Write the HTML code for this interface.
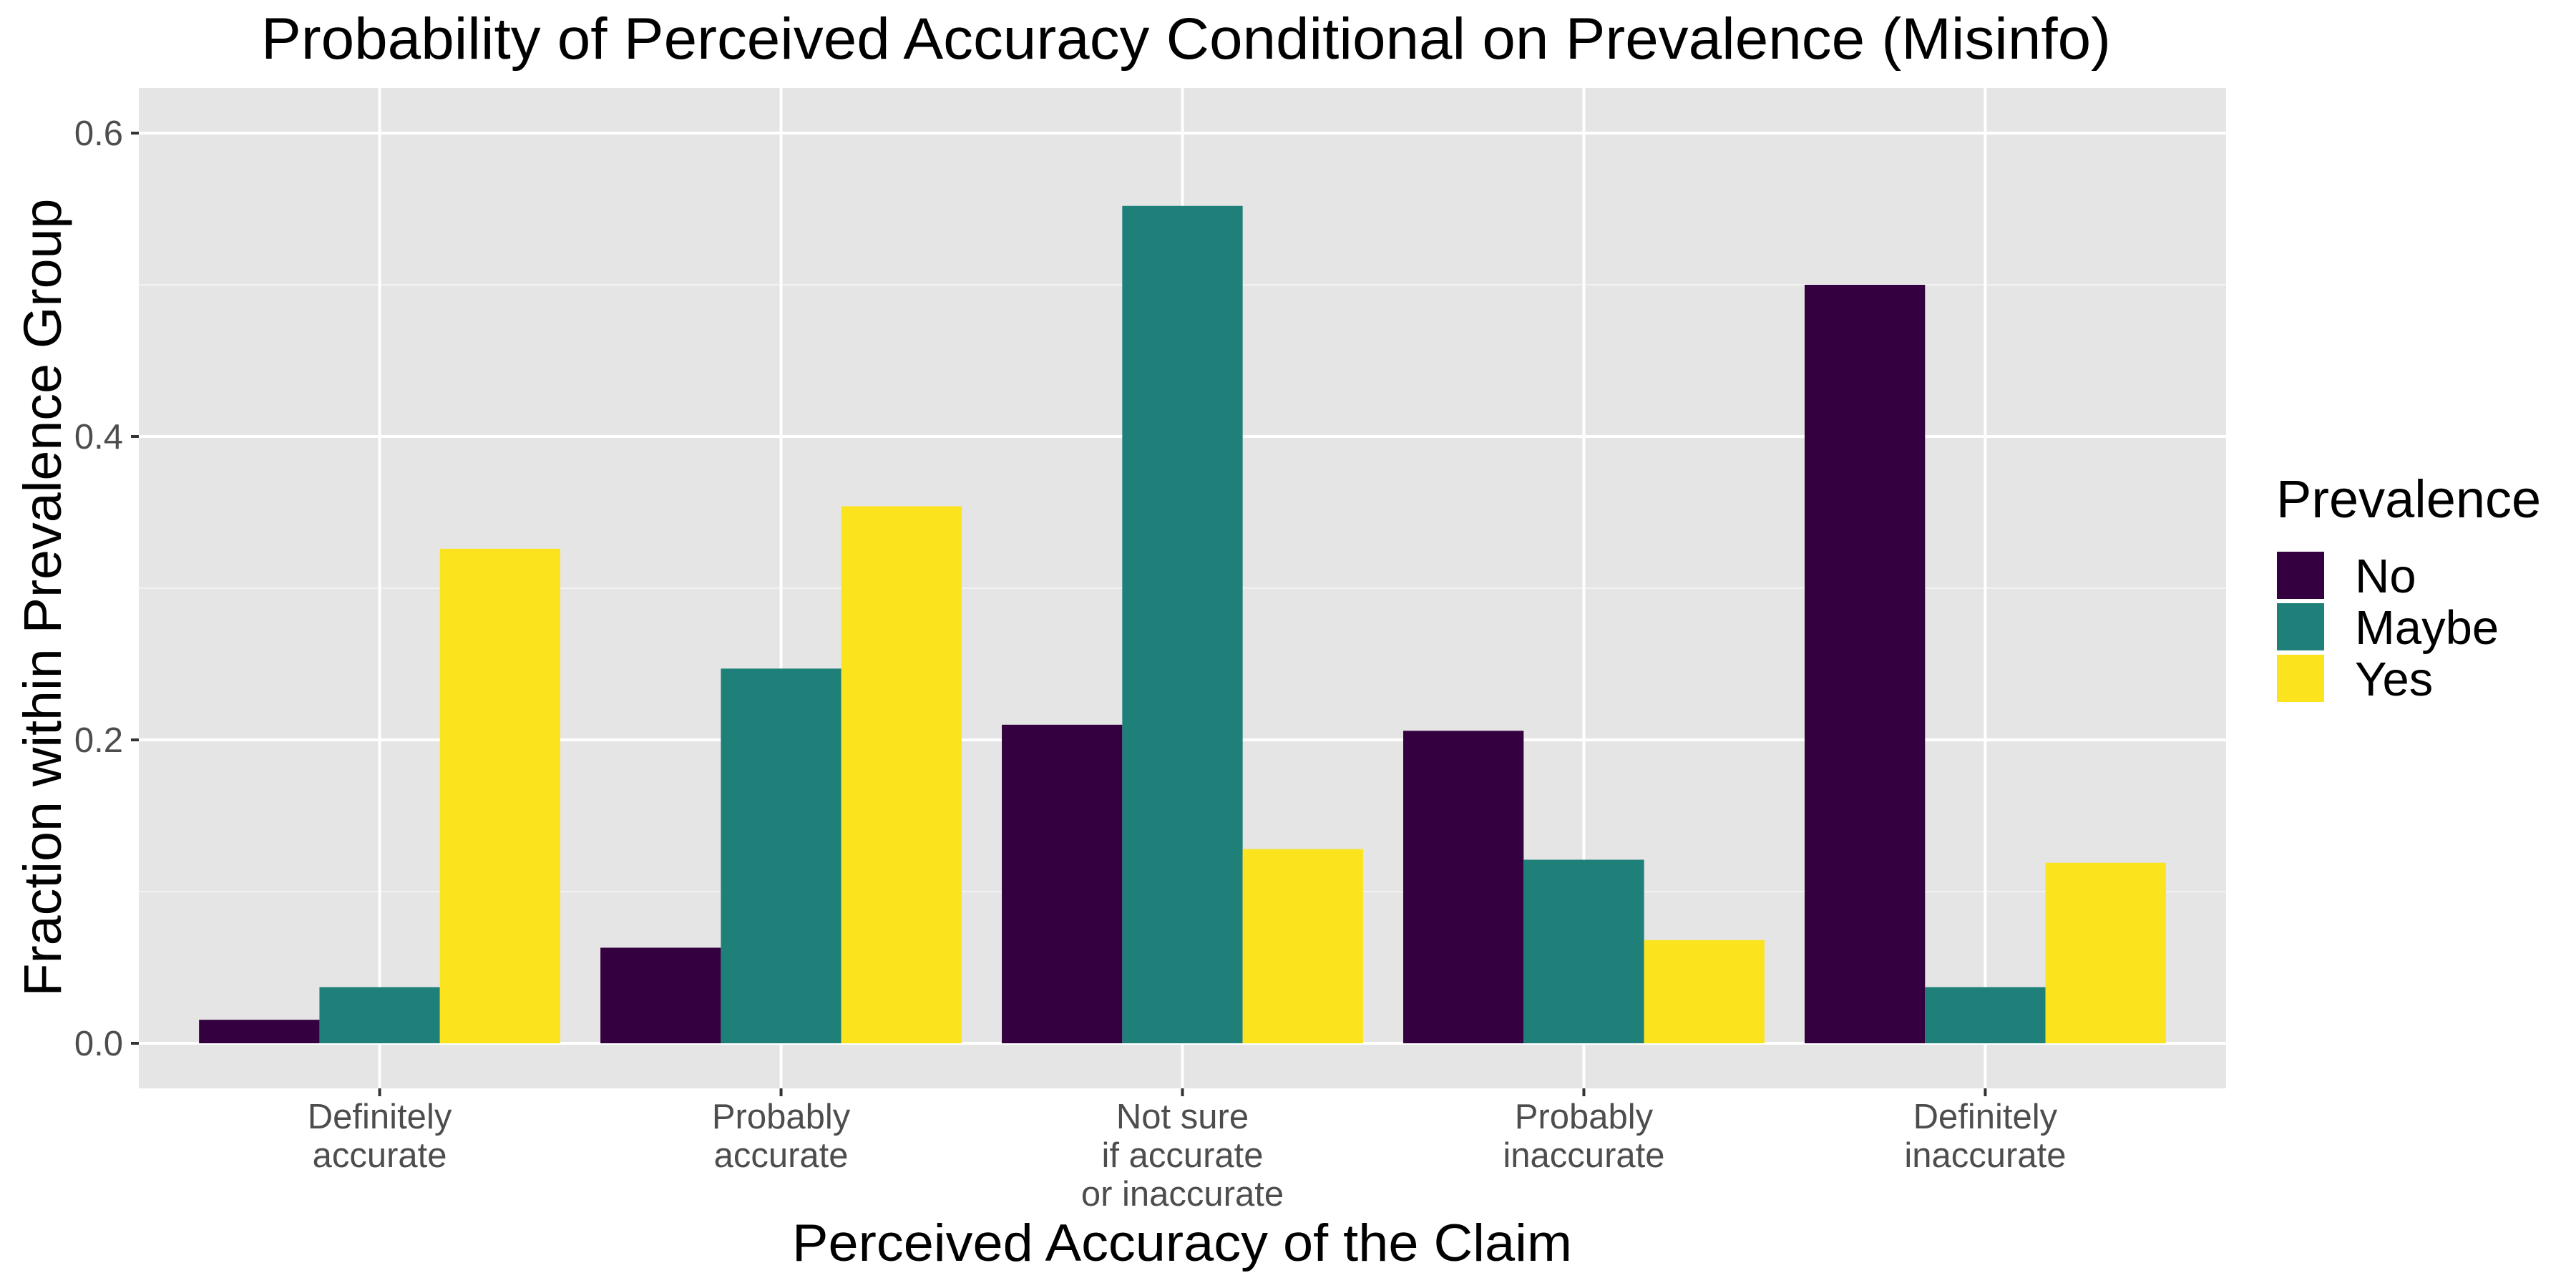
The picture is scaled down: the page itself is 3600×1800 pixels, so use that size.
<!DOCTYPE html>
<html><head><meta charset="utf-8"><style>
html,body{margin:0;padding:0;background:#fff;}
svg{display:block;font-family:"Liberation Sans",sans-serif;}
</style></head><body>
<svg id="chart" width="3600" height="1800" viewBox="0 0 3600 1800" xmlns="http://www.w3.org/2000/svg">
<rect x="194" y="123" width="2917" height="1398" fill="#e5e5e5"/>
<g id="grid"></g><g id="bars"></g><g id="axes"></g>
<text x="365" y="82" font-size="82" textLength="2585" lengthAdjust="spacingAndGlyphs" fill="#000">Probability of Perceived Accuracy Conditional on Prevalence (Misinfo)</text>
<text x="1652" y="1762" font-size="73" text-anchor="middle" textLength="1090" lengthAdjust="spacingAndGlyphs" fill="#000">Perceived Accuracy of the Claim</text>
<text transform="translate(85,835) rotate(-90)" font-size="74" text-anchor="middle" textLength="1115" lengthAdjust="spacingAndGlyphs" fill="#000">Fraction within Prevalence Group</text>
<g>
<text x="3181" y="723" font-size="74" fill="#000">Prevalence</text>
<g id="legend-items"></g>
</g>
</svg>
<script>
const categories = [["Definitely","accurate"],["Probably","accurate"],["Not sure","if accurate","or inaccurate"],["Probably","inaccurate"],["Definitely","inaccurate"]];
const seriesNames = ["No","Maybe","Yes"];
const seriesColors = ["#350040","#1f7f79","#fbe41e"];
const valuesNo = [0.0155,0.063,0.210,0.206,0.500];
const valuesMaybe = [0.037,0.247,0.552,0.121,0.037];
const valuesYes = [0.326,0.354,0.128,0.068,0.119];
const yTicks = [0,0.2,0.4,0.6];
const yTickLabels = ["0.0","0.2","0.4","0.6"];
const yMinor = [0.1,0.3,0.5];

const NS="http://www.w3.org/2000/svg";
const pL=194,pR=3111,pT=123,pB=1521;
const unit=(pR-pL)/(categories.length+0.2);
function xC(i){return pL+(0.6+i)*unit;}
function yS(v){return 1458-v*2120;}
function mk(tag,attrs,parent){const e=document.createElementNS(NS,tag);for(const k in attrs)e.setAttribute(k,attrs[k]);parent.appendChild(e);return e;}
const grid=document.getElementById('grid'),bars=document.getElementById('bars'),axes=document.getElementById('axes');
yMinor.forEach(v=>{const l=mk('line',{x1:pL,x2:pR,y1:yS(v),y2:yS(v),stroke:'#f2f2f2','stroke-width':2},grid);

});
yTicks.forEach((v,i)=>{const l=mk('line',{x1:pL,x2:pR,y1:yS(v),y2:yS(v),stroke:'#fff','stroke-width':4},grid);


const t=mk('line',{x1:183,x2:194,y1:yS(v),y2:yS(v),stroke:'#333','stroke-width':4},axes);


const tx=mk('text',{x:172,y:yS(v)+17,'font-size':49,'text-anchor':'end',fill:'#4d4d4d'},axes);
tx.textContent=yTickLabels[i];

});
const series=[valuesNo,valuesMaybe,valuesYes];
categories.forEach((c,i)=>{const x=xC(i);
const g=mk('line',{x1:x,x2:x,y1:pT,y2:pB,stroke:'#fff','stroke-width':4},grid);


const t=mk('line',{x1:x,x2:x,y1:pB,y2:pB+11,stroke:'#333','stroke-width':4},axes);


const tx=mk('text',{x:x,'font-size':49,'text-anchor':'middle',fill:'#4d4d4d'},axes);


c.forEach((line,j)=>{const ts=mk('tspan',{x:x,y:1577+j*54},tx);ts.textContent=line;});
const bw=unit*0.9/3;
series.forEach((vals,s)=>{const x0=x-unit*0.45+s*bw;
const r=mk('rect',{x:x0,y:yS(vals[i]),width:bw,height:yS(0)-yS(vals[i]),fill:seriesColors[s]},bars);

});
});
const li=document.getElementById('legend-items');
seriesNames.forEach((n,s)=>{const y=771+s*72;
const r=mk('rect',{x:3182,y:y,width:66,height:66,fill:seriesColors[s]},li);


const t=mk('text',{x:3291,y:y+57,'font-size':67,fill:'#000'},li);
t.textContent=n;

});
</script>
</body></html>
